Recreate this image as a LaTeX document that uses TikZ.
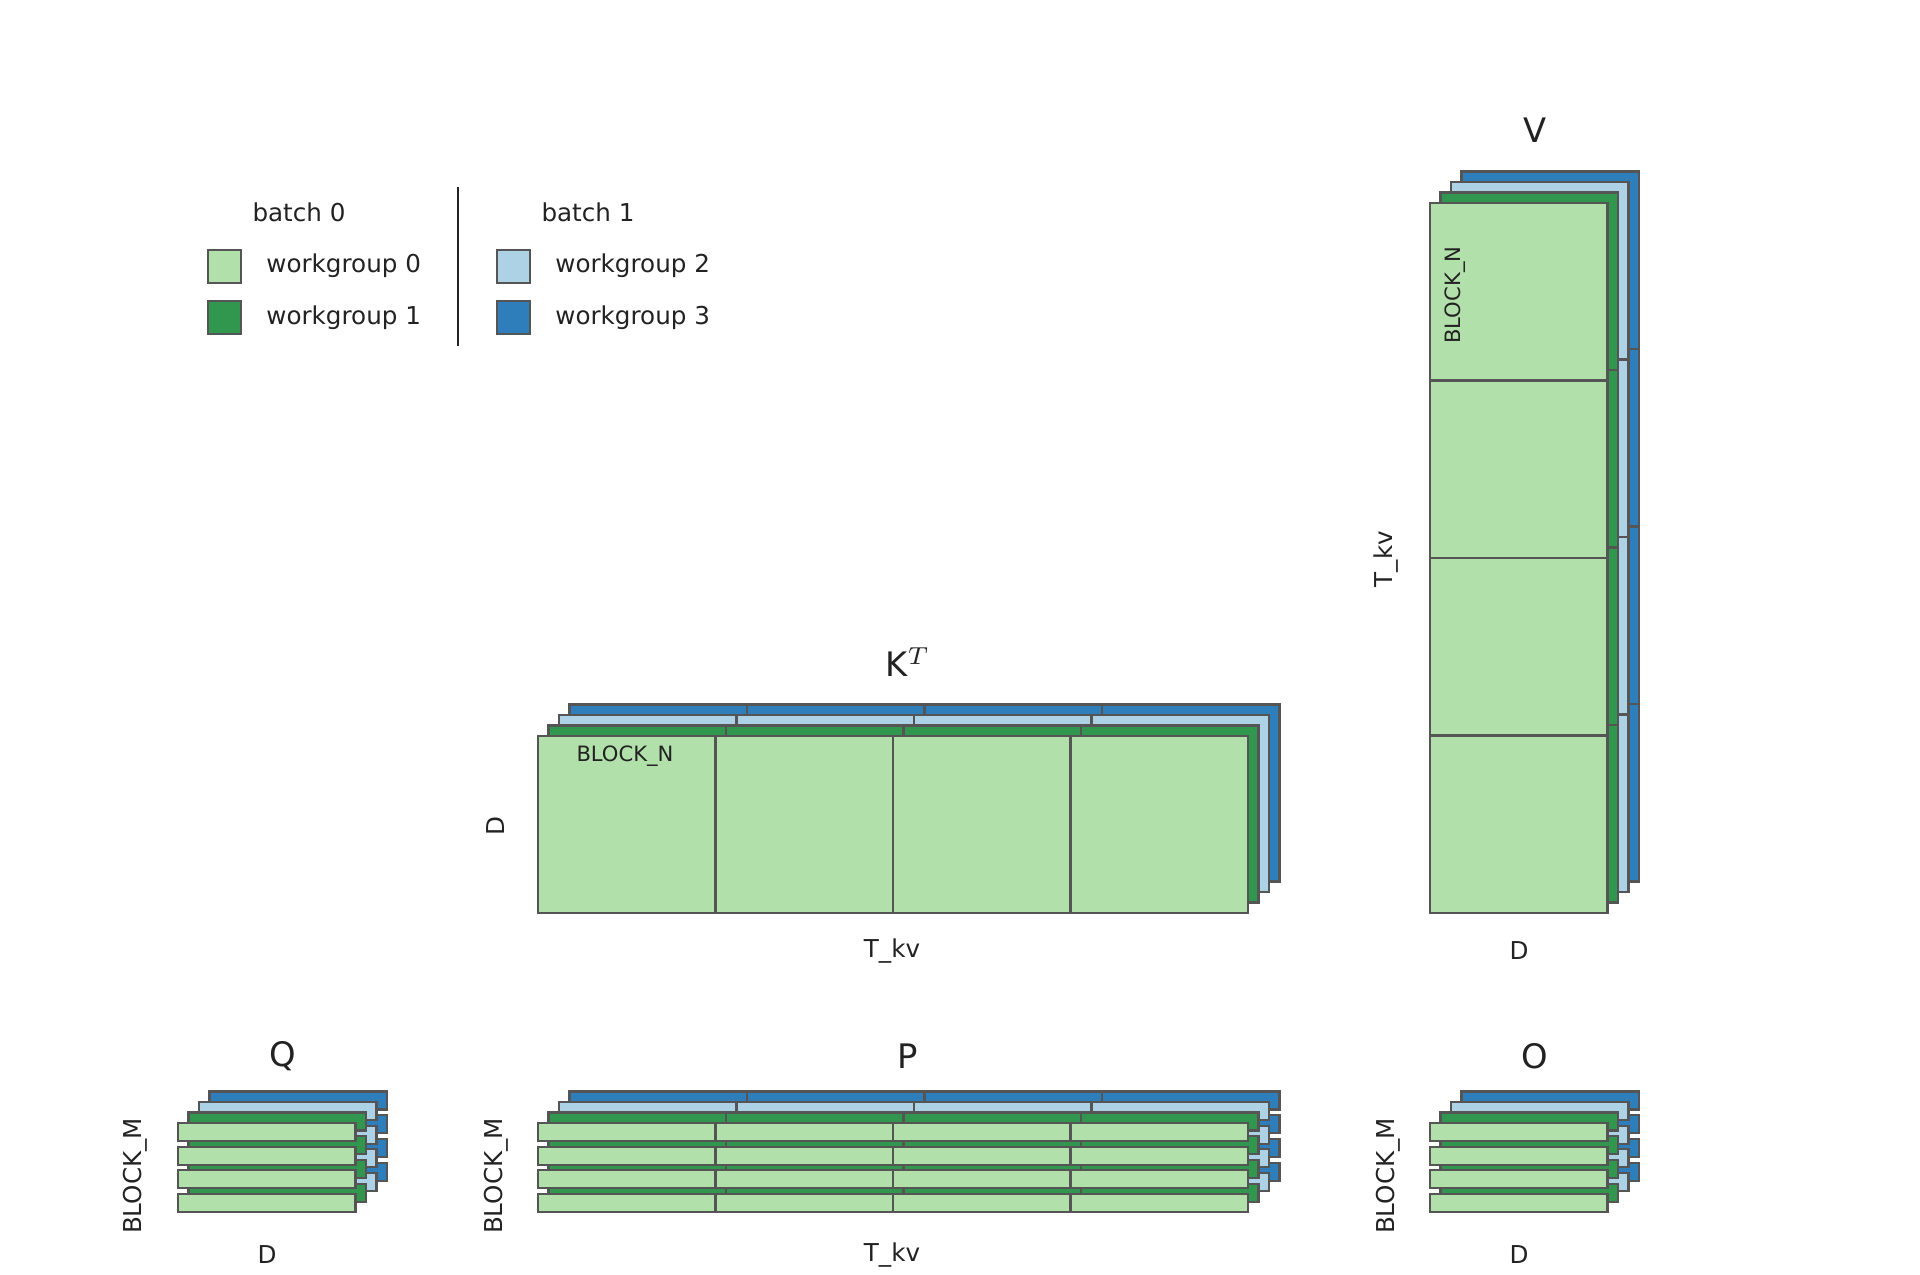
\documentclass[tikz,border=0pt]{standalone}
\usepackage{fontspec}
\setmainfont{DejaVu Sans}
\definecolor{lg}{HTML}{B2E0AB}
\definecolor{dg}{HTML}{31974E}
\definecolor{lb}{HTML}{ADD1E5}
\definecolor{db}{HTML}{2F7EBC}
\definecolor{ed}{HTML}{555555}
\definecolor{tx}{HTML}{222222}
\newcommand{\mymat}[7]{%
  \foreach \k/\c in {3/db,2/lb,1/dg,0/lg}{%
    \foreach \i in {1,...,#5}{\foreach \j in {1,...,#6}{%
      \draw[cell,fill=\c] ({#1+(\i-1)*#3+\k*10.5},{#2+(\j-1)*(#4+#7)-\k*10.5}) rectangle ++(#3,#4);
    }}}}
\begin{document}
\begin{tikzpicture}[x=0.2844pt,y=-0.2844pt,
  cell/.style={draw=ed,line width=0.6pt},
  lab/.style={text=tx,font=\fontsize{7}{8}\selectfont},
  ttl/.style={text=tx,font=\fontsize{9.6}{11}\selectfont},
  sml/.style={text=tx,font=\fontsize{6}{7}\selectfont}]
\useasboundingbox (0,0) rectangle (1920,1275);
% K^T
\mymat{538}{736}{177.5}{177}{4}{1}{0}
% V
\mymat{1430}{203}{177.5}{177.5}{1}{4}{0}
% Q, P, O
\mymat{178}{1123}{177.5}{18}{1}{4}{5.7}
\mymat{538}{1123}{177.5}{18}{4}{4}{5.7}
\mymat{1430}{1123}{177.5}{18}{1}{4}{5.7}
% titles
\node[ttl] (tK) at (908,662) {K$^{T}$};
\node[ttl] (tV) at (1535,130) {V};
\node[ttl] (tQ) at (283,1056) {Q};
\node[ttl] (tP) at (908,1056) {P};
\node[ttl] (tO) at (1535,1056) {O};
% axis labels
\node[lab] (a1) at (892,951) {T\_kv};
\node[lab] (a2) at (1519,951) {D};
\node[lab,rotate=90] (a3) at (496,826) {D};
\node[lab,rotate=90] (a4) at (1386,559) {T\_kv};
\node[lab] (a5) at (267,1255) {D};
\node[lab] (a6) at (892,1255) {T\_kv};
\node[lab] (a7) at (1519,1255) {D};
\node[lab,rotate=90] (a8) at (135,1176) {BLOCK\_M};
\node[lab,rotate=90] (a9) at (496,1176) {BLOCK\_M};
\node[lab,rotate=90] (a10) at (1388,1176) {BLOCK\_M};
\node[sml] (bn1) at (625,756) {BLOCK\_N};
\node[sml,rotate=90] (bn2) at (1455,295) {BLOCK\_N};
% legend
\node[lab] (b0) at (299,212) {batch 0};
\node[lab] (b1) at (588,212) {batch 1};
\draw[cell,fill=lg] (208,250) rectangle (241,283);
\draw[cell,fill=dg] (208,301) rectangle (241,334);
\draw[cell,fill=lb] (497,250) rectangle (530,283);
\draw[cell,fill=db] (497,301) rectangle (530,334);
\node[lab,anchor=west] (w0) at (254,266) {workgroup 0};
\node[lab,anchor=west] (w1) at (254,318) {workgroup 1};
\node[lab,anchor=west] (w2) at (543,266) {workgroup 2};
\node[lab,anchor=west] (w3) at (543,318) {workgroup 3};
\draw[draw=tx,line width=0.4pt] (458,187) -- (458,346);
\end{tikzpicture}
\end{document}
